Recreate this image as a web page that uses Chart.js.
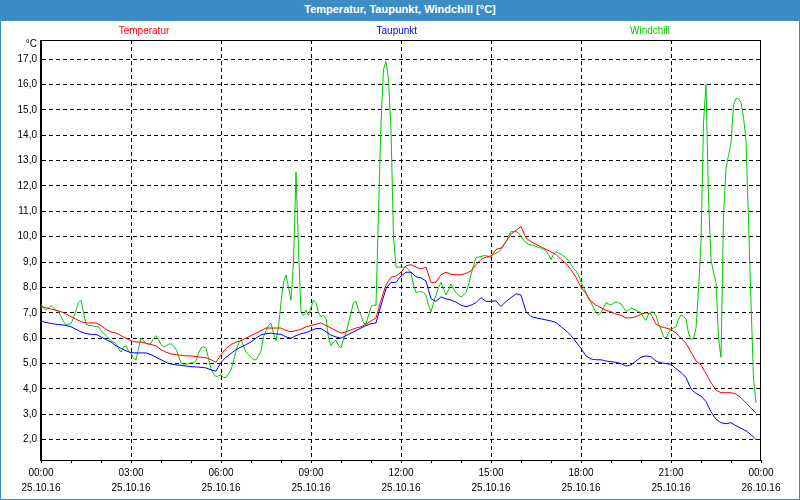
<!DOCTYPE html>
<html>
<head>
<meta charset="utf-8">
<script src="https://cdn.jsdelivr.net/npm/chart.js@4.4.1/dist/chart.umd.min.js"></script>
<style>
  body { margin: 0; background: #fff; }
  #wrap { position: relative; width: 800px; height: 500px; overflow: hidden; }
  #chart { position: absolute; left: 0; top: 0; }
  #titleBar {
    position: absolute; left: 0; top: 0; width: 800px; height: 21px;
    background: #3c8dc5; color: #fff; text-align: center;
    font: bold 11px 'Liberation Sans', Arial, sans-serif;
    line-height: 19px;
  }
  #frame { position: absolute; left: 0; top: 0; width: 798px; height: 498px; border: 1px solid #3c8dc5; pointer-events: none; }
</style>
</head>
<body>
<div id="wrap">
  <canvas id="chart" width="800" height="500"></canvas>
  <div id="titleBar">Temperatur, Taupunkt, Windchill [°C]</div>
  <div id="frame"></div>
</div>
<script>
// 25.10.16, values every 10 min (Windchill every 5 min)
const seriesLabels = ['Temperatur', 'Taupunkt', 'Windchill'];
const seriesColors = ['#ff0000', '#0000ff', '#00c800'];

const temperature = [
  7.25, 7.2, 7.15, 7.1, 7.05, 6.95, 6.85, 6.75, 6.65, 6.6,
  6.6, 6.6, 6.5, 6.35, 6.25, 6.2, 6.1, 6.0, 5.9, 5.85,
  5.85, 5.8, 5.75, 5.7, 5.55, 5.45, 5.38, 5.35, 5.33, 5.3,
  5.3, 5.28, 5.25, 5.23, 5.15, 5.05, 5.35, 5.6, 5.75, 5.85,
  5.9, 6.0, 6.1, 6.2, 6.3, 6.4, 6.4, 6.4, 6.4, 6.3,
  6.25, 6.3, 6.35, 6.45, 6.5, 6.55, 6.6, 6.5, 6.4, 6.3,
  6.2, 6.25, 6.33, 6.4, 6.45, 6.55, 6.68, 6.8, 7.5, 8.1,
  8.4, 8.45, 8.6, 8.85, 8.9, 8.8, 8.73, 8.8, 8.2, 8.2,
  8.5, 8.6, 8.52, 8.5, 8.5, 8.55, 8.65, 8.9, 9.1, 9.2,
  9.2, 9.5, 9.55, 9.8, 10.1, 10.25, 10.4, 9.95, 9.8, 9.7,
  9.6, 9.5, 9.4, 9.3, 9.1, 8.95, 8.7, 8.4, 8.0, 7.75,
  7.45, 7.3, 7.2, 7.1, 7.04, 6.95, 6.9, 6.8, 6.8, 6.85,
  6.95, 7.0, 6.95, 6.55, 6.45, 6.4, 6.35, 6.2, 6.0, 5.8,
  5.45, 5.1, 4.95, 4.6, 4.25, 3.95, 3.85, 3.85, 3.85, 3.8,
  3.65, 3.45, 3.25, 3.05
];

const dewPoint = [
  6.68, 6.62, 6.58, 6.55, 6.53, 6.5, 6.45, 6.35, 6.25, 6.18,
  6.15, 6.15, 6.05, 5.95, 5.85, 5.7, 5.6, 5.5, 5.43, 5.42,
  5.42, 5.42, 5.35, 5.25, 5.15, 5.05, 4.98, 4.95, 4.93, 4.9,
  4.88, 4.87, 4.85, 4.83, 4.75, 4.7, 5.05, 5.25, 5.4, 5.55,
  5.65, 5.75, 5.85, 6.0, 6.13, 6.18, 6.2, 6.17, 6.15, 6.05,
  6.0, 6.1, 6.17, 6.22, 6.3, 6.38, 6.38, 6.25, 6.12, 6.05,
  6.0, 6.1, 6.2, 6.3, 6.4, 6.5, 6.57, 6.6, 7.3, 7.95,
  8.2, 8.2, 8.45, 8.6, 8.6, 8.42, 8.38, 8.25, 7.55, 7.45,
  7.63, 7.55, 7.5, 7.42, 7.3, 7.24, 7.3, 7.4, 7.6, 7.45,
  7.45, 7.47, 7.25, 7.45, 7.6, 7.75, 7.7, 7.05, 6.85, 6.8,
  6.76, 6.72, 6.68, 6.62, 6.45, 6.3, 6.1, 5.85, 5.6, 5.3,
  5.18, 5.15, 5.15, 5.1, 5.07, 5.05, 5.0, 4.9, 4.95, 5.1,
  5.25, 5.3, 5.27, 5.1, 5.03, 5.0, 4.97, 4.8, 4.65, 4.45,
  4.0, 3.82, 3.72, 3.5, 3.1, 2.8, 2.67, 2.63, 2.67, 2.55,
  2.45, 2.35, 2.2, 2.0
];

const windChill = [
  7.33, 7.2, 7.1, 7.2, 7.28, 7.2, 7.1, 7.04, 6.85, 6.65,
  6.53, 6.55, 6.57, 6.8, 7.1, 7.4, 7.5, 7.0, 6.55, 6.5,
  6.5, 6.48, 6.45, 6.45, 6.3, 6.2, 6.1, 6.0, 5.9, 5.85,
  5.8, 5.6, 5.45, 5.65, 5.7, 5.5, 5.4, 5.2, 5.15, 5.6,
  6.0, 5.9, 5.8, 5.74, 5.8, 6.0, 6.1, 5.95, 5.75, 5.66,
  5.7, 5.76, 5.78, 5.7, 5.55, 5.3, 5.02, 4.98, 4.97, 5.0,
  5.03, 5.03, 5.1, 5.4, 5.62, 5.66, 5.6, 5.2, 4.8, 4.6,
  4.48, 4.52, 4.55, 4.45, 4.45, 4.6, 4.75, 5.1, 5.5, 5.8,
  5.94, 5.7, 5.45, 5.35, 5.25, 5.15, 5.15, 5.3, 5.5, 6.05,
  6.3, 6.5, 6.6, 6.2, 5.9, 6.45, 7.4, 8.2, 8.5, 8.0,
  7.5, 9.0, 12.55, 9.5, 7.0, 6.9, 7.1, 6.9, 7.2, 7.5,
  7.4, 7.0, 6.85, 6.9, 6.8, 6.0, 5.7, 5.85, 5.92, 5.7,
  5.62, 5.95, 6.2, 6.6, 7.0, 7.4, 7.45, 7.1, 6.9, 6.6,
  6.55, 6.9, 7.25, 7.3, 7.3, 11.0, 14.5, 16.6, 16.9, 16.2,
  14.2, 10.0, 8.8, 8.8, 8.8, 8.8, 8.8, 8.7, 8.57, 8.1,
  7.8, 7.83, 7.83, 7.8, 7.7, 7.3, 7.04, 7.4, 7.7, 8.0,
  8.2, 7.95, 7.7, 7.9, 8.14, 7.95, 7.8, 7.7, 7.63, 7.7,
  7.8, 8.1, 8.5, 8.85, 9.17, 9.2, 9.22, 9.25, 9.25, 9.22,
  9.25, 9.3, 9.35, 9.4, 9.5, 9.65, 9.8, 10.0, 10.2, 10.2,
  10.2, 10.15, 10.0, 9.87, 9.76, 9.7, 9.68, 9.65, 9.62, 9.58,
  9.55, 9.5, 9.45, 9.3, 9.1, 9.3, 9.4, 9.35, 9.3, 9.25,
  9.15, 9.05, 8.9, 8.75, 8.65, 8.5, 8.2, 8.0, 7.8, 7.55,
  7.4, 7.2, 7.0, 6.92, 7.0, 7.2, 7.4, 7.35, 7.3, 7.38,
  7.43, 7.4, 7.35, 7.2, 7.05, 7.1, 7.2, 7.15, 7.1, 7.05,
  7.0, 6.8, 6.7, 6.95, 7.04, 7.02, 6.9, 6.55, 6.35, 6.05,
  6.0, 6.2, 6.35, 6.4, 6.45, 6.75, 6.92, 6.85, 6.75, 6.2,
  5.95, 6.0, 6.4, 7.9, 9.8, 14.5, 16.0, 11.5, 9.1, 8.6,
  8.2, 6.0, 5.25, 10.8, 12.7, 13.2, 13.7, 15.2, 15.45, 15.42,
  15.3, 14.7, 13.8, 10.6, 7.4, 4.4, 3.45
];

const tempStep = 10;   // minutes between samples
const windStep = 5;

const yTicks = [2, 3, 4, 5, 6, 7, 8, 9, 10, 11, 12, 13, 14, 15, 16, 17];
const timeLabels = ['00:00', '03:00', '06:00', '09:00', '12:00', '15:00', '18:00', '21:00', '00:00'];
const dateLabels = ['25.10.16', '25.10.16', '25.10.16', '25.10.16', '25.10.16', '25.10.16', '25.10.16', '25.10.16', '26.10.16'];

const toPoints = (values, step) => values.map((v, i) => ({ x: i * step, y: v }));

const fontFamily = "'Liberation Sans', Arial, sans-serif";
Chart.defaults.font.family = fontFamily;
Chart.defaults.font.size = 10;
Chart.defaults.color = '#000';

// legend texts spread across the top, frame and unit label
const legendPos = [0.18, 0.496, 0.8125];
const decorations = {
  id: 'decorations',
  afterDraw(chart) {
    const ctx = chart.ctx;
    const a = chart.chartArea;
    ctx.save();
    ctx.strokeStyle = '#000';
    ctx.lineWidth = 1;
    ctx.setLineDash([]);
    ctx.strokeRect(Math.round(a.left) - 0.5, Math.round(a.top) + 0.5,
      Math.round(a.right - a.left), Math.round(a.bottom - a.top));
    ctx.font = '10px ' + fontFamily;
    ctx.textBaseline = 'middle';
    ctx.textAlign = 'center';
    chart.data.datasets.forEach((ds, i) => {
      ctx.fillStyle = ds.borderColor;
      ctx.fillText(ds.label, chart.width * legendPos[i], 31);
    });
    ctx.fillStyle = '#000';
    ctx.textAlign = 'right';
    ctx.fillText('°C', a.left - 4, a.top + 4);
    ctx.restore();
  }
};

const ctx = document.getElementById('chart').getContext('2d');
new Chart(ctx, {
  type: 'line',
  data: {
    datasets: [
      { label: seriesLabels[0], data: toPoints(temperature, tempStep), borderColor: seriesColors[0] },
      { label: seriesLabels[1], data: toPoints(dewPoint, tempStep), borderColor: seriesColors[1] },
      { label: seriesLabels[2], data: toPoints(windChill, windStep), borderColor: seriesColors[2] }
    ]
  },
  options: {
    responsive: false,
    animation: false,
    devicePixelRatio: 1,
    layout: { padding: { left: 0, right: 39, top: 40, bottom: 0 } },
    elements: {
      line: { borderWidth: 1, tension: 0 },
      point: { radius: 0, hoverRadius: 0 }
    },
    plugins: {
      legend: { display: false },
      title: { display: false },
      tooltip: { enabled: false }
    },
    scales: {
      x: {
        type: 'linear',
        min: 0,
        max: 1440,
        afterFit(axis) { axis.height = 40; },
        ticks: {
          stepSize: 60,
          autoSkip: false,
          maxRotation: 0,
          padding: 3,
          font: { lineHeight: 1.5 },
          callback(value) {
            if (value % 180 !== 0) return '';
            const k = value / 180;
            return [timeLabels[k], dateLabels[k]];
          }
        },
        grid: {
          color: (c) => (c.tick && c.tick.value % 180 === 0 && c.tick.value > 0 && c.tick.value < 1440) ? '#000' : 'rgba(0,0,0,0)',
          tickColor: '#000',
          tickLength: 3,
          drawTicks: true
        },
        border: { display: true, color: '#000', dash: [4, 3] }
      },
      y: {
        min: 1.2,
        max: 17.75,
        afterFit(axis) { axis.width = 41; },
        afterBuildTicks(axis) { axis.ticks = yTicks.map(v => ({ value: v })); },
        ticks: {
          padding: 4,
          callback: (value) => value.toFixed(1).replace('.', ',')
        },
        grid: {
          color: '#000',
          drawTicks: false
        },
        border: { display: true, color: '#000', dash: [4, 3] }
      }
    }
  },
  plugins: [decorations]
});
</script>
</body>
</html>
